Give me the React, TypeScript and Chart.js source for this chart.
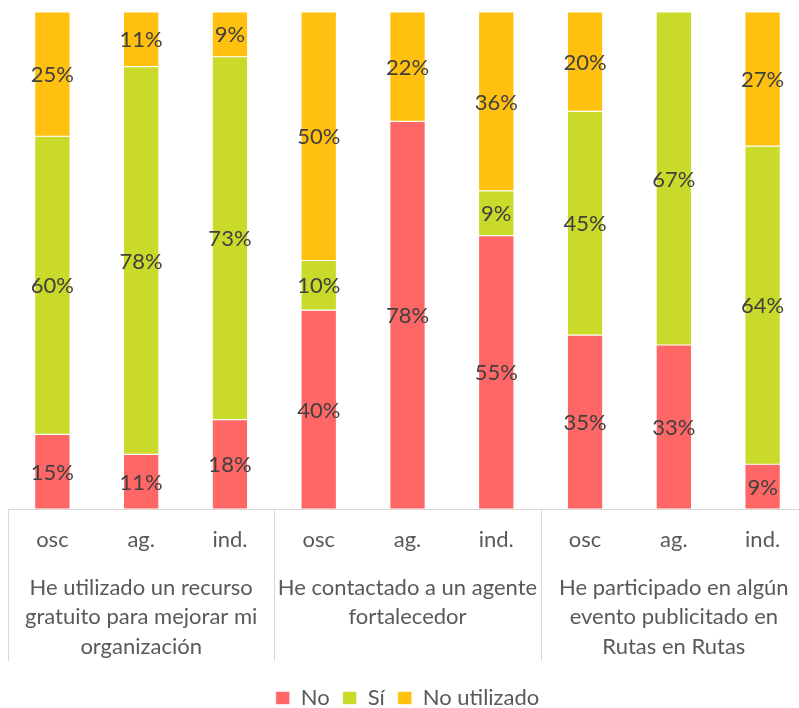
import React, { useEffect, useRef } from "react";
import { Chart, registerables } from "chart.js";

Chart.register(...registerables);

const categories = ["osc", "ag.", "ind.", "osc", "ag.", "ind.", "osc", "ag.", "ind."];
const groupLabels: string[][] = [
  ["He utilizado un recurso", "gratuito para mejorar mi", "organización"],
  ["He contactado a un agente", "fortalecedor"],
  ["He participado en algún", "evento publicitado en", "Rutas en Rutas"],
];
const groupSize = 3;
const seriesNames = ["No", "Sí", "No utilizado"];
const noValues = [15, 11, 18, 40, 78, 55, 35, 33, 9];
const siValues = [60, 78, 73, 10, 0, 9, 45, 67, 64];
const noUtilValues = [25, 11, 9, 50, 22, 36, 20, 0, 27];
const seriesColors = ["#FF6666", "#C9DA2A", "#FFC010"];

const FONT = "Lato";

const dataLabelPlugin = {
  id: "dataLabels",
  afterDatasetsDraw(chart: any) {
    const ctx = chart.ctx;
    ctx.save();
    ctx.font = `22px ${FONT}`;
    ctx.fillStyle = "#404040";
    ctx.textAlign = "center";
    ctx.textBaseline = "middle";
    chart.data.datasets.forEach((ds: any, di: number) => {
      const meta = chart.getDatasetMeta(di);
      meta.data.forEach((el: any, i: number) => {
        const v = ds.data[i];
        if (!v) return;
        const y = (el.y + el.base) / 2;
        ctx.fillText(`${v}%`, el.x, y + 1);
      });
    });
    ctx.restore();
  },
};

const groupAxisPlugin = {
  id: "groupAxis",
  afterDraw(chart: any) {
    const ctx = chart.ctx;
    const x = chart.scales.x;
    const top = chart.chartArea.bottom;
    const n = categories.length;
    const half = (x.getPixelForValue(1) - x.getPixelForValue(0)) / 2;
    ctx.save();
    ctx.strokeStyle = "#D9D9D9";
    ctx.lineWidth = 1;
    for (let g = 0; g <= n / groupSize; g++) {
      const idx = g * groupSize;
      const px = Math.round(x.getPixelForValue(Math.min(idx, n - 1)) + (idx >= n ? half : -half)) + 0.5;
      ctx.beginPath();
      ctx.moveTo(px, top);
      ctx.lineTo(px, top + 152);
      ctx.stroke();
    }
    ctx.font = `22px ${FONT}`;
    ctx.fillStyle = "#595959";
    ctx.textAlign = "center";
    ctx.textBaseline = "alphabetic";
    groupLabels.forEach((lines, g) => {
      const cx = x.getPixelForValue(g * groupSize + 1);
      lines.forEach((line, li) => {
        ctx.fillText(line, cx, top + 86 + li * 29.3);
      });
    });
    ctx.restore();
  },
};

export default function App() {
  const ref = useRef<HTMLCanvasElement | null>(null);
  useEffect(() => {
    document.body.style.margin = "0";
    const canvas = ref.current!;
    Chart.defaults.font.family = FONT;
    const chart = new Chart(canvas, {
      type: "bar",
      data: {
        labels: categories,
        datasets: [noValues, siValues, noUtilValues].map((d, i) => ({
          label: seriesNames[i],
          data: d,
          backgroundColor: seriesColors[i],
          borderColor: "#ffffff",
          borderWidth: 0.6,
          borderSkipped: false,
          barPercentage: 0.4,
          categoryPercentage: 1,
        })),
      },
      options: {
        responsive: false,
        animation: false,
        layout: { padding: { left: 8, right: 8, top: 12, bottom: 0 } },
        scales: {
          x: {
            stacked: true,
            grid: { display: false, drawTicks: false },
            border: { display: true, color: "#D9D9D9", width: 1 },
            ticks: { color: "#595959", font: { size: 22, family: FONT }, padding: 18, maxRotation: 0, autoSkip: false },
            afterFit: (scale: any) => {
              scale.height = 165;
            },
          },
          y: {
            stacked: true,
            display: false,
            min: 0,
            max: 100,
          },
        },
        plugins: {
          legend: {
            position: "bottom",
            labels: {
              boxWidth: 14,
              boxHeight: 13,
              color: "#595959",
              font: { size: 22, family: FONT },
              padding: 13,
            },
          },
          tooltip: { enabled: false },
        },
      },
      plugins: [dataLabelPlugin, groupAxisPlugin],
    });
    return () => chart.destroy();
  }, []);
  return (
    <div style={{ width: 799, height: 708, overflow: "hidden", position: "relative", background: "#fff" }}>
      <canvas ref={ref} width={815} height={719} style={{ display: "block" }} />
    </div>
  );
}
